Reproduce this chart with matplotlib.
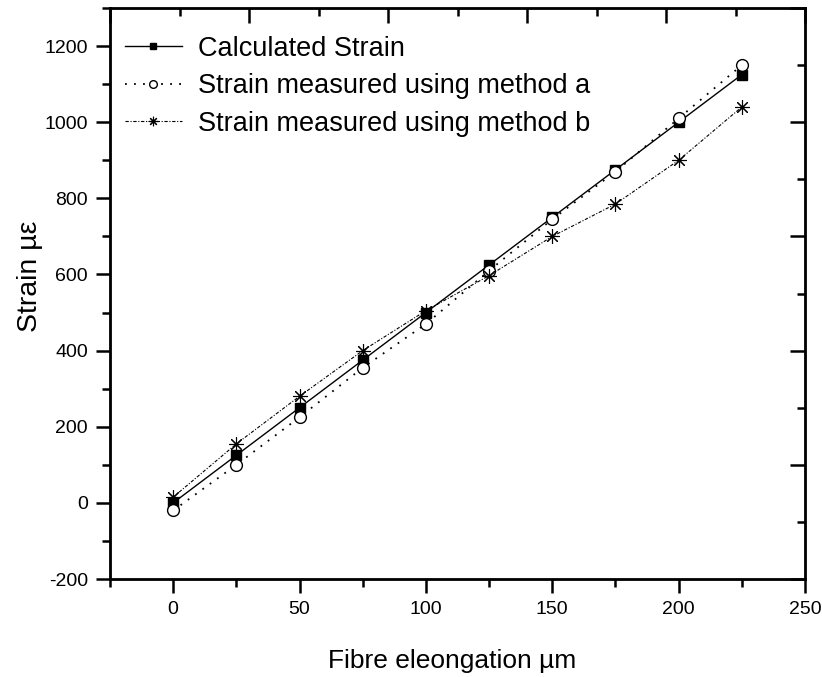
import matplotlib
matplotlib.use('Agg')
import matplotlib.pyplot as plt
from matplotlib.ticker import MultipleLocator

elong = [0, 25, 50, 75, 100, 125, 150, 175, 200, 225]
calc = [0, 125, 250, 375, 500, 625, 750, 875, 1000, 1125]
meth_a = [-20, 100, 225, 355, 470, 610, 745, 870, 1010, 1150]
meth_b = [15, 155, 280, 400, 505, 597, 700, 785, 900, 1040]

plt.rcParams['font.family'] = ['Liberation Sans', 'DejaVu Sans']
plt.rcParams['axes.unicode_minus'] = False

fig = plt.figure(figsize=(8.22, 6.77), dpi=100)
ax = fig.add_axes([110 / 822, 1 - 579 / 677, 695 / 822, 571 / 677])

ax.plot(elong, calc, '-', color='black', lw=1, marker='s', ms=7.5,
        mfc='black', mec='black', label='Calculated Strain')
ax.plot(elong, meth_a, color='black', lw=1.3, ls=(0, (1, 4)), marker='o', ms=8.5,
        mfc='white', mec='black', mew=1, label='Strain measured using method a')
ax.plot(elong, meth_b, color='black', lw=0.8, ls=(0, (3, 1.5, 1, 1.5)),
        marker=(8, 2, 0), ms=10.5, mew=0.8, label='Strain measured using method b')

ax.set_xlim(-25, 250)
ax.set_ylim(-200, 1300)
ax.xaxis.set_major_locator(MultipleLocator(50))
ax.xaxis.set_minor_locator(MultipleLocator(25))
ax.yaxis.set_major_locator(MultipleLocator(200))
ax.yaxis.set_minor_locator(MultipleLocator(100))
ax.tick_params(which='major', direction='out', length=10, width=1.8, labelsize=14, pad=6)
ax.tick_params(which='minor', direction='out', length=6, width=1.8)
for s in ax.spines.values():
    s.set_linewidth(2)

ax.set_xlabel('Fibre eleongation \u00b5m', fontsize=19)
ax.xaxis.set_label_coords(0.492, -0.122)
ax.set_ylabel('Strain \u00b5\u03b5', fontsize=20.5)
ax.yaxis.set_label_coords(-0.097, 0.53)

# top and right axes of the layer, own 0-10 scale, inward ticks
top = ax.twiny()
top.set_xlim(0, 10)
top.xaxis.set_major_locator(MultipleLocator(2))
top.xaxis.set_minor_locator(MultipleLocator(1))
top.tick_params(which='both', direction='in', width=1.8, labeltop=False)
top.tick_params(which='major', length=11)
top.tick_params(which='minor', length=6)
right = ax.twinx()
right.set_ylim(0, 10)
right.yaxis.set_major_locator(MultipleLocator(2))
right.yaxis.set_minor_locator(MultipleLocator(1))
right.tick_params(which='both', direction='in', width=1.8, labelright=False)
right.tick_params(which='major', length=11)
right.tick_params(which='minor', length=6)

ax.legend(loc='upper left', bbox_to_anchor=(15 / 695, 0.951), frameon=False, fontsize=19.5,
          handlelength=2.1, handletextpad=0.6, labelspacing=0.42, borderpad=0,
          borderaxespad=0, markerscale=0.65)

fig.savefig('out.png', dpi=100)
